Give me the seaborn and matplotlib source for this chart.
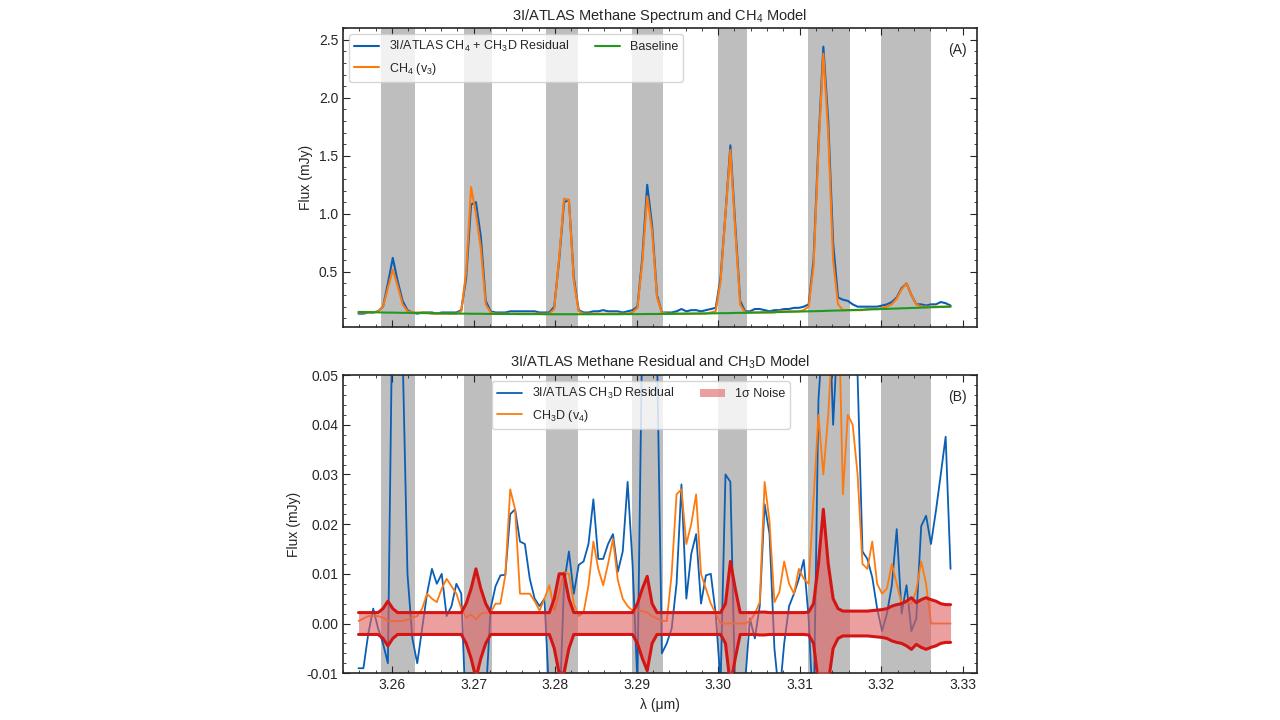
import numpy as np
import pandas as pd
import matplotlib
matplotlib.use('Agg')
import matplotlib.pyplot as plt
import seaborn as sns

# wavelength grid (um)
wave = np.round(3.2559 + 0.0006 * np.arange(122), 4)

# shaded CH4 line windows
bands = [(3.2586, 3.2628), (3.2688, 3.2723), (3.2789, 3.2828), (3.2894, 3.2932),
         (3.3000, 3.3035), (3.3110, 3.3162), (3.3200, 3.3261)]

# panel A
flux_obs = [.14, .14, .15, .15, .16, .20, .40, .62, .42, .25,
            .17, .15, .14, .15, .15, .15, .14, .15, .15, .15,
            .15, .17, .45, 1.08, 1.10, .80, .25, .16, .15, .15,
            .15, .16, .16, .16, .16, .16, .16, .15, .15, .15,
            .20, .60, 1.10, 1.12, .45, .17, .15, .15, .16, .16,
            .17, .16, .16, .16, .15, .16, .17, .20, .62, 1.25,
            .90, .30, .15, .15, .15, .16, .18, .16, .17, .17,
            .16, .17, .18, .19, .45, 1.00, 1.59, .90, .25, .16,
            .16, .18, .18, .17, .16, .17, .17, .18, .18, .19,
            .19, .20, .22, .60, 1.60, 2.44, 1.80, .75, .28, .26,
            .25, .22, .20, .20, .20, .20, .20, .21, .22, .24,
            .28, .36, .40, .30, .22, .22, .21, .22, .22, .24,
            .23, .21]
flux_ch4 = [.15, .15, .15, .15, .16, .20, .36, .52, .38, .22,
            .16, .15, .15, .15, .15, .14, .14, .14, .14, .14,
            .14, .16, .50, 1.23, 1.00, .70, .22, .15, .14, .14,
            .14, .14, .14, .14, .14, .14, .14, .14, .14, .14,
            .18, .62, 1.13, 1.12, .42, .16, .14, .14, .14, .14,
            .14, .14, .14, .14, .14, .14, .15, .19, .58, 1.15,
            .85, .28, .15, .14, .14, .14, .14, .14, .14, .14,
            .14, .14, .15, .16, .42, 1.00, 1.55, .85, .22, .15,
            .15, .15, .15, .15, .15, .15, .16, .16, .16, .16,
            .16, .17, .20, .55, 1.55, 2.38, 1.70, .60, .22, .17,
            .17, .17, .17, .17, .18, .18, .18, .19, .20, .22,
            .27, .35, .40, .30, .22, .20, .20, .20, .20, .20,
            .20, .20]
baseline = [.155, .154, .153, .152, .151, .150, .149, .149, .148, .147,
            .147, .146, .145, .145, .144, .143, .143, .142, .142, .141,
            .141, .140, .140, .139, .139, .139, .138, .138, .138, .137,
            .137, .137, .137, .136, .136, .136, .136, .136, .135, .135,
            .135, .135, .135, .135, .135, .135, .135, .135, .135, .135,
            .135, .135, .135, .135, .136, .136, .136, .136, .136, .137,
            .137, .137, .138, .138, .138, .139, .139, .140, .140, .141,
            .141, .142, .142, .143, .144, .144, .145, .146, .147, .147,
            .148, .149, .150, .151, .152, .153, .154, .155, .156, .157,
            .158, .159, .160, .161, .162, .163, .165, .166, .167, .168,
            .170, .171, .172, .174, .175, .177, .178, .180, .181, .183,
            .184, .186, .187, .189, .190, .192, .193, .195, .196, .198,
            .199, .201]

# panel B
resid = [-.009, -.009, -.002, .003, -.001, -.004, -.008, .07, .06, .055,
         .01, -.003, -.008, -.001, .006, .011, .008, .010, .0015, .0035,
         .008, .006, -.02, -.04, -.05, -.03, -.015, .003, .0075, .0097,
         .0098, .022, .023, .0165, .016, .009, .005, .0035, .005, -.015,
         -.03, -.02, .008, .0145, .006, .0118, .0125, .016, .025, .013,
         .013, .016, .018, .0104, .0145, .0285, .012, -.012, .06, .08,
         .07, .055, -.006, -.004, -.001, .008, .028, .005, .014, .018,
         .004, .0097, .010, .002, -.012, .030, .0285, -.015, -.02, -.012,
         .001, -.003, .0035, .024, .018, -.005, -.015, -.004, .0035, .006,
         .009, .0128, .001, -.02, .045, .06, .07, .04, .06, .07,
         .06, .055, .05, .0145, .013, .0093, .003, -.0015, .002, .0077,
         .019, .002, .0077, -.0015, .001, .0196, .0217, .016, .0226, .030,
         .0376, .011]
ch3d = [.0005, .001, .0015, .0015, .0015, .0012, .0005, .0005, .0005, .0005,
        .0008, .0012, .0015, .003, .006, .005, .0043, .007, .009, .0075,
        .006, .003, .0012, .0018, .0008, .002, .0022, .0022, .004, .004,
        .0097, .027, .023, .006, .006, .006, .0045, .0026, .005, .0077,
        .0026, .006, .0104, .010, .004, .0015, .0022, .0077, .0165, .011,
        .0077, .012, .017, .0087, .005, .0035, .0026, .0026, .0025, .0022,
        .0015, .001, .0005, .0005, .010, .026, .027, .016, .020, .026,
        .010, .007, .004, .002, 0, 0, 0, 0, 0, 0,
        .0005, .002, .0043, .0285, .0205, .0043, .0063, .0125, .008, .006,
        .011, .009, .008, .025, .042, .030, .042, .06, .07, .026,
        .042, .040, .030, .012, .011, .0165, .008, .006, .007, .012,
        .008, .004, .0043, .004, .0067, .0125, .008, 0, 0, 0,
        0, 0]
sigma = [.0022, .0022, .0022, .0022, .0022, .003, .0045, .003, .0022, .0022,
         .0022, .0022, .0022, .0022, .0022, .0022, .0022, .0022, .0022, .0022,
         .0022, .0022, .004, .007, .011, .007, .004, .0022, .0022, .0022,
         .0022, .0022, .0022, .0022, .0022, .0022, .0022, .0022, .0022, .0022,
         .005, .010, .010, .005, .0022, .0022, .0022, .0022, .0022, .0022,
         .0022, .0022, .0022, .0022, .0022, .0022, .0022, .004, .007, .0095,
         .004, .0022, .0022, .0022, .0022, .0022, .0022, .0022, .0022, .0022,
         .0022, .0022, .0022, .0022, .0022, .004, .0125, .007, .0022, .0022,
         .0022, .0022, .0023, .0023, .0022, .0022, .0022, .0022, .0022, .0022,
         .0022, .0022, .0023, .004, .012, .023, .012, .005, .003, .0025,
         .0025, .0025, .0025, .0025, .0025, .0026, .0027, .0028, .003, .0035,
         .0038, .004, .0045, .0052, .0042, .0048, .0052, .0048, .0045, .004,
         .0038, .0038]

sns.set_style('ticks')
plt.rcParams['font.family'] = ['Liberation Sans', 'DejaVu Sans']
plt.rcParams['mathtext.fontset'] = 'custom'
plt.rcParams['mathtext.rm'] = 'Liberation Sans'
blue, orange, green = '#0a5fb4', '#ff7a0e', '#1f9a1f'

df_a = pd.DataFrame({'wave': wave, 'obs': flux_obs, 'ch4': flux_ch4, 'base': baseline})
df_b = pd.DataFrame({'wave': wave, 'resid': resid, 'ch3d': ch3d, 'sig': sigma})

fig = plt.figure(figsize=(12.8, 7.2), dpi=100)
ax1 = fig.add_axes([0.268, 0.546, 0.495, 0.415])
ax2 = fig.add_axes([0.268, 0.065, 0.495, 0.414])

for ax in (ax1, ax2):
    for lo, hi in bands:
        ax.axvspan(lo, hi, color='#bebebe', lw=0, zorder=0)

sns.lineplot(data=df_a, x='wave', y='obs', color=blue, lw=1.5, ax=ax1,
             label='3I/ATLAS CH$_4$ + CH$_3$D Residual')
sns.lineplot(data=df_a, x='wave', y='ch4', color=orange, lw=1.5, ax=ax1, label='CH$_4$ (v$_3$)')
sns.lineplot(data=df_a, x='wave', y='base', color=green, lw=1.5, ax=ax1, label='Baseline')
ax1.legend(loc='upper left', ncol=2, fontsize=9, framealpha=0.8)
ax1.set_title('3I/ATLAS Methane Spectrum and CH$_4$ Model', fontsize=10.5)
ax1.set_ylabel('Flux (mJy)')
ax1.set_xlabel('')
ax1.set_ylim(0.026, 2.60)
ax1.set_yticks([0.5, 1.0, 1.5, 2.0, 2.5])
ax1.tick_params(labelbottom=False)
ax1.text(0.985, 0.95, '(A)', transform=ax1.transAxes, ha='right', va='top', fontsize=10)

sns.lineplot(data=df_b, x='wave', y='resid', color=blue, lw=1.3, ax=ax2,
             label='3I/ATLAS CH$_3$D Residual')
sns.lineplot(data=df_b, x='wave', y='ch3d', color=orange, lw=1.3, ax=ax2, label='CH$_3$D (v$_4$)')
sig = df_b['sig'].to_numpy()
ax2.fill_between(wave, -sig, sig, color='#e06060', alpha=0.6, lw=0, label='1σ Noise', zorder=3)
ax2.plot(wave, sig, color='#d41515', lw=2.2, zorder=4)
ax2.plot(wave, -sig, color='#d41515', lw=2.2, zorder=4)
ax2.legend(loc='upper center', bbox_to_anchor=(0.47, 1.0), ncol=2, fontsize=9, framealpha=0.8)
ax2.set_title('3I/ATLAS Methane Residual and CH$_3$D Model', fontsize=10.5)
ax2.set_ylabel('Flux (mJy)')
ax2.set_xlabel('λ (μm)')
ax2.set_ylim(-0.01, 0.05)
ax2.set_yticks([-0.01, 0.0, 0.01, 0.02, 0.03, 0.04, 0.05])
ax2.yaxis.set_major_formatter(matplotlib.ticker.FormatStrFormatter('%.2f'))
ax2.text(0.985, 0.95, '(B)', transform=ax2.transAxes, ha='right', va='top', fontsize=10)

for ax in (ax1, ax2):
    ax.set_xlim(3.2540, 3.3317)
    ax.set_xticks([3.26, 3.27, 3.28, 3.29, 3.30, 3.31, 3.32, 3.33])
    ax.minorticks_on()
    ax.tick_params(which='both', direction='in', top=True, right=True)
    ax.tick_params(which='major', length=5)
    ax.tick_params(which='minor', length=2.5)
    for s in ax.spines.values():
        s.set_linewidth(1.2)
ax2.set_xticklabels(['3.26', '3.27', '3.28', '3.29', '3.30', '3.31', '3.32', '3.33'])

fig.savefig('out.png', dpi=100)
